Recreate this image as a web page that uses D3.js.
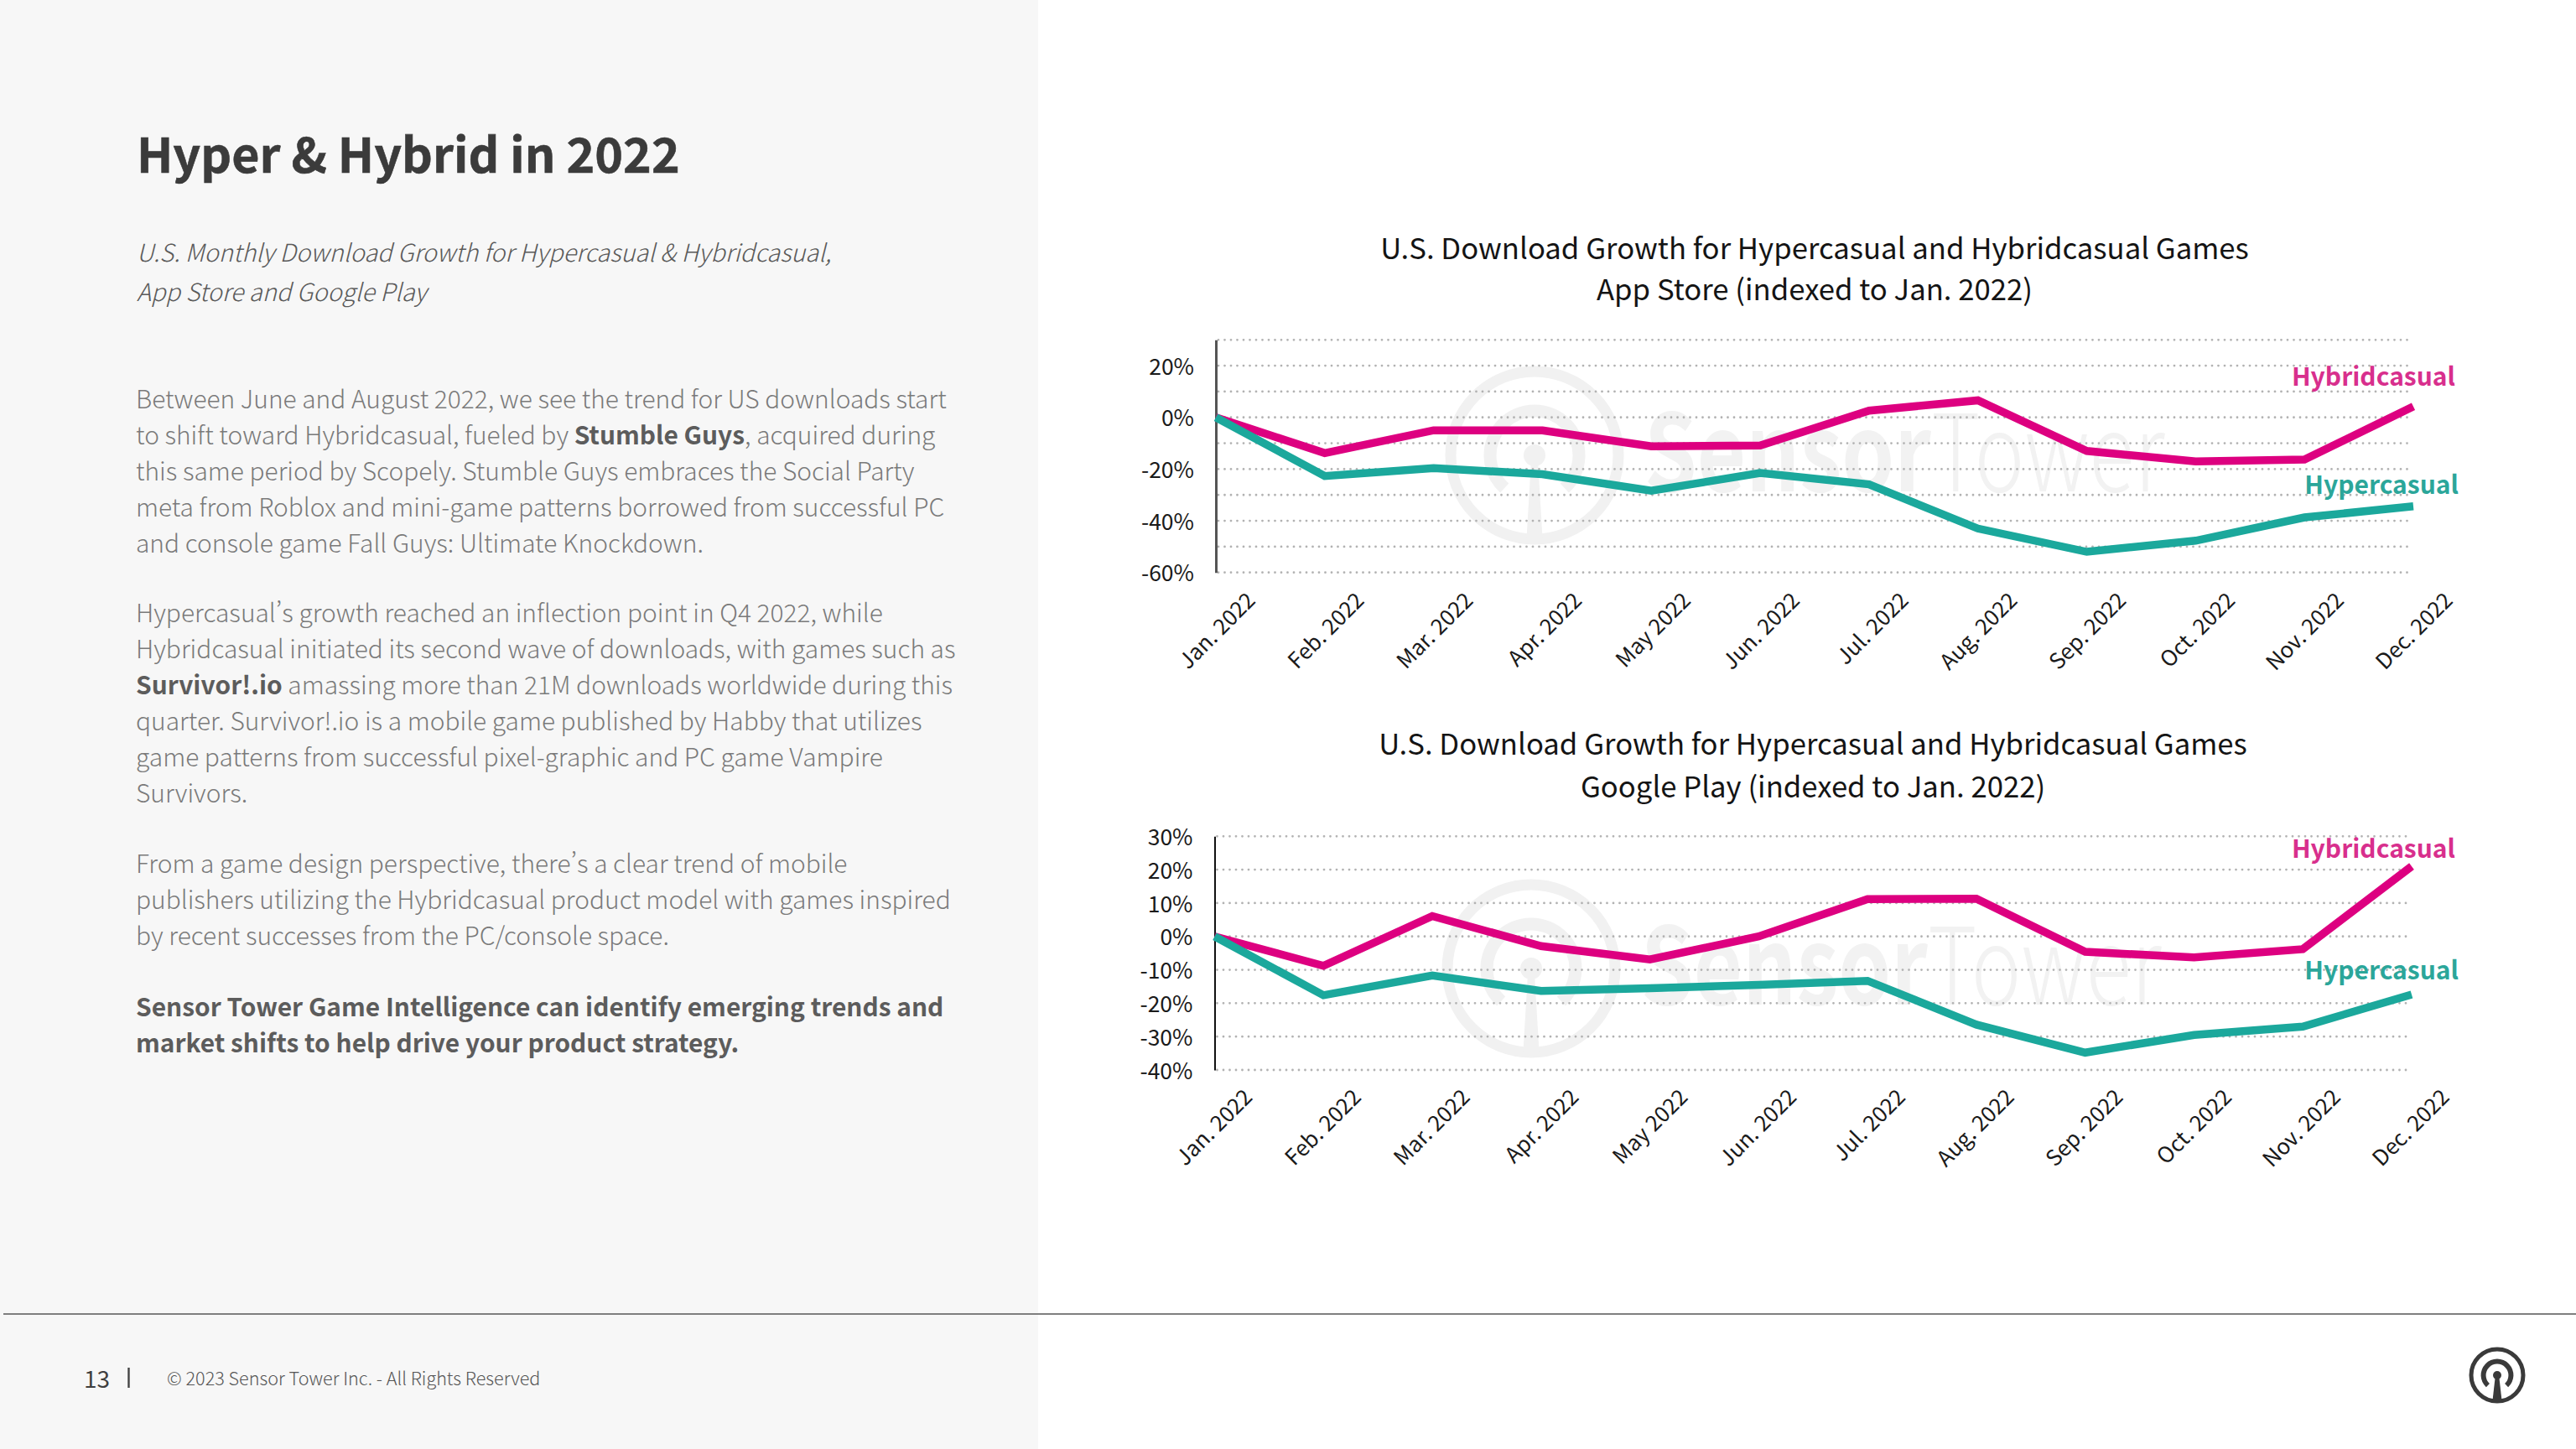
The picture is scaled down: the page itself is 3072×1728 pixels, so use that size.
<!DOCTYPE html>
<html lang="en"><head><meta charset="utf-8">
<script src="https://cdn.jsdelivr.net/npm/d3@7"></script>
<style>
html,body{margin:0;padding:0;background:#fff}
svg{display:block}
text{font-family:"Noto Sans CJK SC","Noto Sans",sans-serif;font-feature-settings:"pwid"}
</style></head><body>
<svg id="c" width="3072" height="1728"></svg>
<script>
const months=["Jan. 2022","Feb. 2022","Mar. 2022","Apr. 2022","May 2022","Jun. 2022","Jul. 2022","Aug. 2022","Sep. 2022","Oct. 2022","Nov. 2022","Dec. 2022"];
const appHybrid=[0,-13.8,-5,-5,-11.2,-10.9,2.6,6.6,-13,-17,-16.3,4.2];
const appHyper=[0,-22.7,-19.6,-22,-28.4,-21.5,-25.9,-43,-52,-47.7,-38.7,-34.4];
const gpHybrid=[0,-8.8,6.1,-2.9,-6.9,0,11.2,11.3,-4.6,-6.3,-3.8,21];
const gpHyper=[0,-17.6,-11.7,-16.3,-15.5,-14.5,-13.3,-26.4,-34.8,-29.5,-27,-17.4];
const appGrid=[30,20,10,0,-10,-20,-30,-40,-50,-60];
const appTicks=[20,0,-20,-40,-60];
const gpGrid=[30,20,10,0,-10,-20,-30,-40];
const gpTicks=[30,20,10,0,-10,-20,-30,-40];
const pageTitle="Hyper & Hybrid in 2022";
const subtitle=["U.S. Monthly Download Growth for Hypercasual & Hybridcasual,","App Store and Google Play"];
const bodyLines=[
[[486.5,"Between June and August 2022, we see the trend for US downloads start"]],
[[529.5,"to shift toward Hybridcasual, fueled by "],[0,"Stumble Guys",1],[0,", acquired during"]],
[[572.5,"this same period by Scopely. Stumble Guys embraces the Social Party"]],
[[615.5,"meta from Roblox and mini-game patterns borrowed from successful PC"]],
[[658.5,"and console game Fall Guys: Ultimate Knockdown."]],
[[742,"Hypercasual’s growth reached an inflection point in Q4 2022, while"]],
[[785,"Hybridcasual initiated its second wave of downloads, with games such as"]],
[[828,"Survivor!.io",1],[0," amassing more than 21M downloads worldwide during this"]],
[[871,"quarter. Survivor!.io is a mobile game published by Habby that utilizes"]],
[[914,"game patterns from successful pixel-graphic and PC game Vampire"]],
[[957,"Survivors."]],
[[1041,"From a game design perspective, there’s a clear trend of mobile"]],
[[1084,"publishers utilizing the Hybridcasual product model with games inspired"]],
[[1127,"by recent successes from the PC/console space."]],
[[1212,"Sensor Tower Game Intelligence can identify emerging trends and",1]],
[[1254.5,"market shifts to help drive your product strategy.",1]]
];
const chartTitles=[["U.S. Download Growth for Hypercasual and Hybridcasual Games","App Store (indexed to Jan. 2022)"],["U.S. Download Growth for Hypercasual and Hybridcasual Games","Google Play (indexed to Jan. 2022)"]];
const footerNote="© 2023 Sensor Tower Inc. - All Rights Reserved";
const PINK="#dd0080",TEAL="#1ba89c";

const svg=d3.select("#c");
svg.append("rect").attr("width",1238).attr("height",1728).attr("fill","#f7f7f7");

svg.append("text").attr("x",163).attr("y",206).attr("font-size",57.3).attr("font-weight",700).attr("fill","#3b3b3b").attr("stroke","#3b3b3b").attr("stroke-width",0.6).text(pageTitle);
subtitle.forEach((s,i)=>svg.append("text").attr("x",163).attr("y",312+i*47).attr("font-size",29).attr("font-style","italic").attr("font-weight",300).attr("fill","#5a5a5a").text(s));
bodyLines.forEach(line=>{
  const t=svg.append("text").attr("x",162).attr("y",line[0][0]).attr("font-size",29.9).attr("font-weight",300).attr("fill","#7a7a7a");
  line.forEach(seg=>{
    const s=t.append("tspan").text(seg[1]);
    if(seg[2]) s.attr("font-weight",700).attr("fill","#5c5c5c");
  });
});

function logo(g,R,col,w1,w2,w3,dot){
  g.append("circle").attr("r",R).attr("fill","none").attr("stroke",col).attr("stroke-width",w1);
  const arc=d3.arc().innerRadius(R*0.53-w2/2).outerRadius(R*0.53+w2/2).startAngle(-2.4).endAngle(2.4);
  g.append("path").attr("d",arc()).attr("fill",col);
  g.append("path").attr("d",`M${-w3*0.3},0 L${w3*0.3},0 L${w3*0.8},${R} L${-w3*0.8},${R} Z`).attr("fill",col);
  g.append("circle").attr("r",dot).attr("fill",col);
}

function chart(cfg){
  const g=svg.append("g");
  const wm=g.append("g").attr("transform",`translate(${cfg.wx},${cfg.wy})`);
  logo(wm,100,"#f1f1f1",13,15,12,13);
  const wt=g.append("text").attr("transform",`translate(${cfg.wx+131},${cfg.wy+43}) scale(0.785,1)`).attr("font-size",128).attr("fill","#f2f2f2");
  wt.append("tspan").attr("font-weight",700).text("Sensor");
  wt.append("tspan").attr("font-weight",300).text("Tower");

  const x=d3.scalePoint().domain(months).range([cfg.x0,cfg.x1]);
  const y=d3.scaleLinear().domain(cfg.ydom).range([cfg.y1,cfg.y0]);
  g.append("g").selectAll("line").data(cfg.grid).join("line")
    .attr("x1",cfg.x0+3).attr("x2",cfg.x1).attr("y1",d=>y(d)).attr("y2",d=>y(d))
    .attr("stroke","#b2b2b2").attr("stroke-width",2.8).attr("stroke-linecap","round").attr("stroke-dasharray","0 7.5");
  const ya=g.append("g").attr("transform",`translate(${cfg.x0},0)`).call(d3.axisLeft(y).tickValues(cfg.ticks).tickSize(0).tickPadding(26).tickFormat(d=>d+"%"));
  ya.select(".domain").attr("stroke",cfg.axisCol).attr("stroke-width",cfg.axisW);
  ya.selectAll("text").attr("font-size",26.5).attr("fill","#1a1a1a").attr("font-family",'"Noto Sans CJK SC"').attr("dy","0.38em");
  const xa=g.append("g").attr("transform",`translate(0,${cfg.y1})`).call(d3.axisBottom(x).tickSize(0));
  xa.select(".domain").remove();
  xa.selectAll("text").attr("font-size",26).attr("fill","#1a1a1a").attr("font-family",'"Noto Sans CJK SC"')
    .attr("text-anchor","end").attr("dy",0).attr("y",0)
    .attr("transform",`translate(${cfg.labX},${cfg.lab}) rotate(-45)`);
  const line=d3.line().x((d,i)=>x(months[i])).y(d=>y(d));
  [[cfg.hybrid,PINK],[cfg.hyper,TEAL]].forEach(([v,c])=>{
    g.append("path").datum(v).attr("d",line).attr("fill","none").attr("stroke",c).attr("stroke-width",9.5).attr("stroke-linejoin","miter");
  });
  g.append("text").attr("x",2928).attr("y",cfg.hybY).attr("text-anchor","end").attr("font-size",30).attr("font-weight",700).attr("fill","#d82f8d").text("Hybridcasual");
  g.append("text").attr("x",2932).attr("y",cfg.hypY).attr("text-anchor","end").attr("font-size",30).attr("font-weight",700).attr("fill","#2ba69a").text("Hypercasual");
  cfg.titles.forEach((t,i)=>g.append("text").attr("x",cfg.tx).attr("y",cfg.ty[i]).attr("text-anchor","middle").attr("font-size",34.7).attr("fill","#141414").text(t));
}
chart({x0:1450,x1:2878,y0:405.3,y1:682.7,ydom:[-60,30],grid:appGrid,ticks:appTicks,hybrid:appHybrid,hyper:appHyper,wx:1830,wy:543,axisCol:"#555",axisW:3,labX:48,lab:35,hybY:460,hypY:589,titles:chartTitles[0],tx:2164,ty:[308.5,357.5]});
chart({x0:1448.5,x1:2876,y0:997.3,y1:1276,ydom:[-40,30],grid:gpGrid,ticks:gpTicks,hybrid:gpHybrid,hyper:gpHyper,wx:1826,wy:1155,axisCol:"#111",axisW:2,labX:46,lab:34,hybY:1023,hypY:1168,titles:chartTitles[1],tx:2162,ty:[899.5,950.5]});

svg.append("line").attr("x1",4).attr("x2",3072).attr("y1",1567).attr("y2",1567).attr("stroke","#7f7f7f").attr("stroke-width",2);
svg.append("text").attr("x",100).attr("y",1655).attr("font-size",28).attr("font-weight",400).attr("fill","#3f3f3f").text("13");
svg.append("line").attr("x1",153.5).attr("x2",153.5).attr("y1",1631).attr("y2",1655).attr("stroke","#444").attr("stroke-width",2.4);
svg.append("text").attr("x",199).attr("y",1652).attr("font-size",21.6).attr("font-weight",300).attr("fill","#555").text(footerNote);
logo(svg.append("g").attr("transform","translate(2978,1640)"),31,"#3a3a3a",5,6,7,5);
</script></body></html>
